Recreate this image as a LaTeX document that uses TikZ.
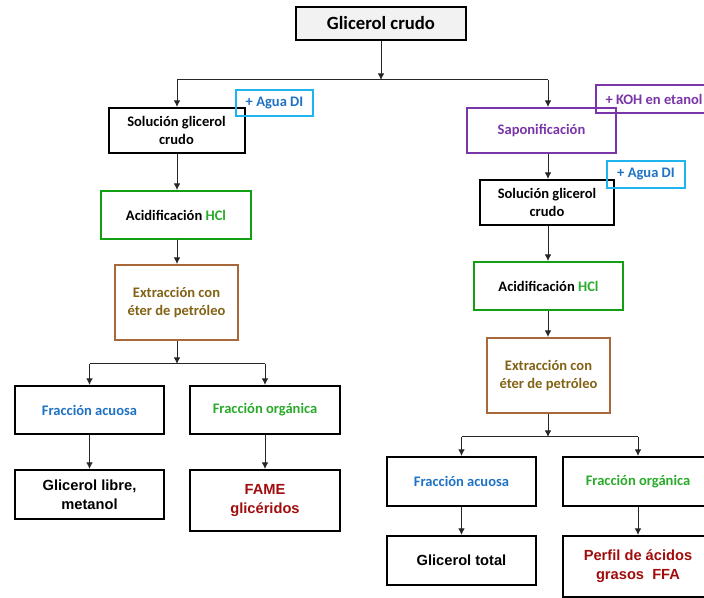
\documentclass[tikz,border=0pt]{standalone}
\usepackage{fontspec}
\setmainfont{Carlito}
\newfontfamily\arialf{Liberation Sans}
\usetikzlibrary{arrows.meta,calc}
\definecolor{cyanb}{HTML}{1FB4EE}
\definecolor{blueT}{HTML}{1F72C4}
\definecolor{purp}{HTML}{7A35A8}
\definecolor{grnB}{HTML}{12A012}
\definecolor{grnT}{HTML}{2AAA2A}
\definecolor{brnB}{HTML}{A8683A}
\definecolor{brnT}{HTML}{826214}
\definecolor{dred}{HTML}{A00C0C}
\definecolor{topfill}{HTML}{F2F2F2}
\tikzset{
  px/.style={x=0.75pt,y=-0.75pt},
  box/.style={draw=black,line width=1.5pt,inner sep=0pt,align=center,
    font=\bfseries\fontsize{10.9}{13.5}\selectfont},
  wh/.style 2 args={minimum width=#1*0.75pt,minimum height=#2*0.75pt},
  colbox/.style={box,line width=1.4pt,draw=#1},
  addbox/.style={box,line width=1.4pt,draw=#1},
  arialtext/.style={font=\arialf\bfseries\fontsize{11}{14}\selectfont},
  conn/.style={line width=0.75pt,draw=black!85},
  arr/.style={conn,-{Latex[length=5pt,width=5pt]}},
}
\begin{document}
\begin{tikzpicture}[px]
\useasboundingbox (0,0) rectangle (704,598);
\clip (0,0) rectangle (704,598);
% top
\node[box,wh={170}{33},fill=topfill,font=\bfseries\fontsize{14}{17}\selectfont] (top) at (381,23.5) {Glicerol crudo};
\coordinate (j0) at (381,80);
\coordinate (jl) at (177,80);
\coordinate (jr) at (548,80);
% left column
\node[box,wh={136}{45}] (L1) at (176.5,130.5) {Solución glicerol\\crudo};
\node[addbox=cyanb,wh={77}{26},text=blueT] (aguaL) at (274.5,103) {+ Agua DI};
\node[colbox=grnB,wh={150}{48}] (L2) at (176,215) {Acidificación \textcolor{grnT}{HCl}};
\node[colbox=brnB,wh={123}{75},text=brnT] (L3) at (176.5,302.5) {Extracción con\\éter de petróleo};
\coordinate (jL) at (177,364);
\node[box,wh={149}{48},text=blueT] (L4a) at (89.5,410) {Fracción acuosa};
\node[box,wh={150}{48},text=grnT] (L4b) at (265,410) {Fracción orgánica};
\node[box,wh={149}{49},arialtext] (L5a) at (89.5,494.5) {Glicerol libre,\\metanol};
\node[box,wh={150}{61},arialtext,text=dred] (L5b) at (265,500.5) {FAME\\glicéridos};
% right column
\node[colbox=purp,wh={149}{45},text=purp] (R1) at (541.5,130.5) {Saponificación};
\node[addbox=purp,wh={116}{28},text=purp] (koh) at (654,99) {+ KOH en etanol};
\node[box,wh={134}{45}] (R2) at (547,202.5) {Solución glicerol\\crudo};
\node[addbox=cyanb,wh={78}{27},text=blueT] (aguaR) at (646,174.5) {+ Agua DI};
\node[colbox=grnB,wh={149}{48}] (R3) at (548.5,286) {Acidificación \textcolor{grnT}{HCl}};
\node[colbox=brnB,wh={123}{75},text=brnT] (R4) at (548.5,375.5) {Extracción con\\éter de petróleo};
\coordinate (jR) at (548,437);
\node[box,wh={149}{49},text=blueT] (R5a) at (461.5,481.5) {Fracción acuosa};
\node[box,wh={150}{49},text=grnT] (R5b) at (638,481.5) {Fracción orgánica};
\node[box,wh={149}{49},arialtext] (R6a) at (461.5,560.5) {Glicerol total};
\node[box,wh={150}{61},arialtext,text=dred] (R6b) at (638,566.5) {Perfil de ácidos\\grasos\ \ FFA};
% connectors
\draw[arr] (top.south) -- (j0);
\draw[conn] (jl) -- (jr);
\draw[arr] (jl) -- (jl |- L1.north);
\draw[arr] (jr) -- (jr |- R1.north);
% left
\draw[arr] (jl |- L1.south) -- (jl |- L2.north);
\draw[arr] (jl |- L2.south) -- (jl |- L3.north);
\draw[arr] (jl |- L3.south) -- (jL);
\draw[conn] (jL -| L4a) -- (jL -| L4b);
\draw[arr] (jL -| L4a) -- (L4a.north);
\draw[arr] (jL -| L4b) -- (L4b.north);
\draw[arr] (L4a.south) -- (L5a.north);
\draw[arr] (L4b.south) -- (L5b.north);
% right
\draw[arr] (jr |- R1.south) -- (jr |- R2.north);
\draw[arr] (jr |- R2.south) -- (jr |- R3.north);
\draw[arr] (jr |- R3.south) -- (jr |- R4.north);
\draw[arr] (jr |- R4.south) -- (jR);
\draw[conn] (jR -| R5a) -- (jR -| R5b);
\draw[arr] (jR -| R5a) -- (R5a.north);
\draw[arr] (jR -| R5b) -- (R5b.north);
\draw[arr] (R5a.south) -- (R6a.north);
\draw[arr] (R5b.south) -- (R6b.north);
\end{tikzpicture}
\end{document}
